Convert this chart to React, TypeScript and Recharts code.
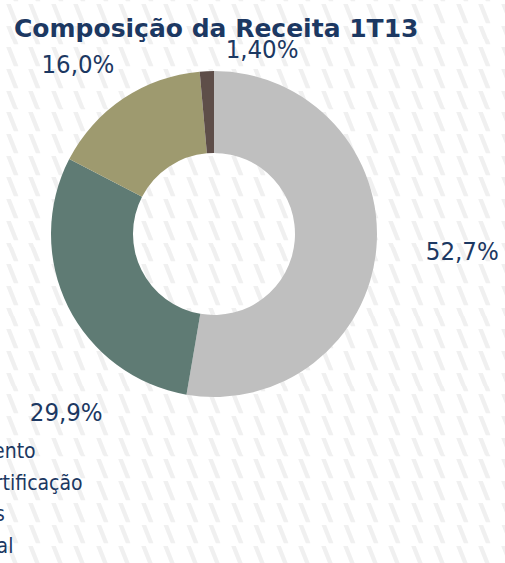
import { PieChart, Pie, Cell, Legend } from "recharts";

const categories = ["Evento", "Certificação", "Kits", "Final"];
const shares = [52.7, 29.9, 16.0, 1.4];
const shareLabels = ["52,7%", "29,9%", "16,0%", "1,40%"];
const colors = ["#bfbfbf", "#5f7b74", "#9e9a6f", "#5e4e49"];

const data = categories.map((name, i) => ({ name, value: shares[i], label: shareLabels[i] }));

const NAVY = "#1c3862";
const RAD = Math.PI / 180;
// excel places these by hand, so nudge each one off its radial spot
const labelNudge = [
  [46, 0],
  [34, 88],
  [-23, -1],
  [57, 18],
];

const hatch =
  "url(\"data:image/svg+xml;utf8,<svg xmlns='http://www.w3.org/2000/svg' width='22.5' height='21.7'><polygon points='9,0 13.5,0 21,19 16.5,19' fill='%23f0f0f0'/></svg>\")";

function renderLabel(p: any) {
  const r = p.outerRadius + 40;
  const [dx, dy] = labelNudge[p.index];
  const x = p.cx + r * Math.cos(-p.midAngle * RAD) + dx;
  const y = p.cy + r * Math.sin(-p.midAngle * RAD) + dy;
  return (
    <text
      x={x}
      y={y}
      fill={NAVY}
      textAnchor="middle"
      dominantBaseline="central"
      fontSize={25.5}
      fontFamily="'DejaVu Sans Condensed', 'DejaVu Sans', sans-serif"
    >
      {shareLabels[p.index]}
    </text>
  );
}

function LegendList() {
  return (
    <div style={{ fontFamily: "'DejaVu Sans Condensed', 'DejaVu Sans', sans-serif", fontSize: 21, color: NAVY }}>
      {categories.map((c, i) => (
        <div key={c} style={{ height: 31.5, lineHeight: "31.5px", whiteSpace: "nowrap", display: "flex", alignItems: "center" }}>
          <span style={{ display: "inline-block", width: 12, height: 12, background: colors[i], marginRight: 8 }} />
          {c}
        </div>
      ))}
    </div>
  );
}

export default function App() {
  return (
    <div
      style={{
        position: "absolute",
        left: 0,
        top: 0,
        width: 505,
        height: 563,
        overflow: "hidden",
        background: "#ffffff",
        backgroundImage: hatch,
        backgroundPosition: "-3px 4px",
      }}
    >
      <div
        style={{
          position: "absolute",
          left: 14,
          top: 14,
          fontFamily: "'DejaVu Sans', sans-serif",
          fontWeight: "bold",
          fontSize: 25,
          color: NAVY,
          whiteSpace: "pre",
        }}
      >
        Composição da Receita 1T13
      </div>
      <PieChart width={505} height={563} style={{ position: "absolute", left: 0, top: 0 }}>
        <Pie
          data={data}
          dataKey="value"
          nameKey="name"
          cx={209}
          cy={229}
          innerRadius={81}
          outerRadius={163}
          startAngle={90}
          endAngle={-270}
          stroke="none"
          label={renderLabel}
          labelLine={false}
          isAnimationActive={false}
        >
          {data.map((d, i) => (
            <Cell key={d.name} fill={colors[i]} />
          ))}
        </Pie>
        <Legend
          content={<LegendList />}
          layout="vertical"
          wrapperStyle={{ left: -50, top: 436, width: 200 }}
        />
      </PieChart>
    </div>
  );
}
